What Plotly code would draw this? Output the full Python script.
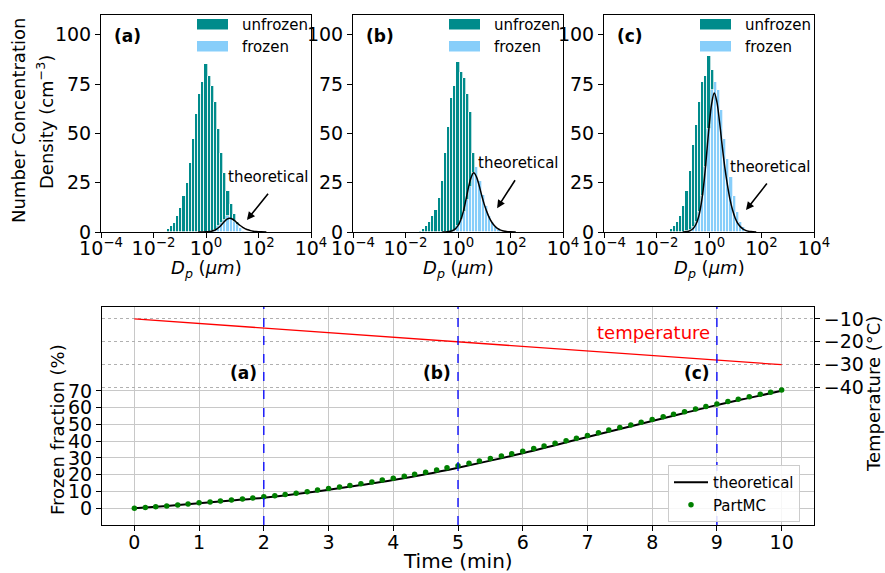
import plotly.graph_objects as go

# ---------------- data ----------------
# histogram bin centres, log10(Dp / um), bin width 0.12 decade
logdp_centers = [-1.44, -1.32, -1.20, -1.08, -0.96, -0.84, -0.72, -0.60, -0.48, -0.36,
                 -0.24, -0.12, 0.00, 0.12, 0.24, 0.36, 0.48, 0.60, 0.72, 0.84,
                 0.96, 1.08, 1.20, 1.32, 1.44, 1.56]
bin_width = 0.12

unfrozen_a = [1.5, 3, 4.5, 8, 12, 18, 25, 35, 47, 60, 70, 76, 85, 79, 73.5, 65, 49, 35.5, 24, 13,
              7.5, 4, 1.5, 0, 0, 0]
frozen_a = [0, 0, 0, 0, 0, 0, 0, 0, 0, 0, 0, 0, 0, 0, 0.5, 1, 3, 4.5, 6, 8,
            6.5, 5, 3.5, 2, 0.5, 0]

unfrozen_b = [0.5, 1.5, 3, 5, 8, 11, 17, 26, 40, 53, 68, 73, 83, 75, 68, 54, 38, 10, 0, 0,
              0, 0, 0, 0, 0, 0]
frozen_b = [0, 0, 0, 0, 0, 0, 0, 0, 0, 0, 0, 1, 3, 6, 10, 16, 23, 30, 33, 26,
            19, 13, 8, 5, 2.5, 1]

unfrozen_c = [1.5, 3, 5, 8, 13, 20.5, 30, 41.5, 49, 56, 58, 46, 37, 10, 0, 0, 0, 0, 0, 0,
              0, 0, 0, 0, 0, 0]
frozen_c = [0, 0, 0, 0, 0, 0.5, 1, 2.5, 5, 10, 18, 33, 52, 72, 76, 72, 62, 47, 37, 28,
            18, 10, 5, 2.5, 1, 0.3]

# theoretical frozen size distributions (log10 Dp, density)
theo_a_x = [-0.3, -0.1, 0.0, 0.1, 0.2, 0.3, 0.4, 0.5, 0.6, 0.7, 0.8, 0.9, 1.0, 1.1, 1.2, 1.3,
            1.4, 1.5, 1.6, 1.7, 1.8, 1.9, 2.0, 2.1, 2.3]
theo_a_y = [0, 0.03, 0.08, 0.18, 0.37, 0.74, 1.4, 2.4, 3.8, 5.3, 6.5, 7.0, 6.6, 5.6, 4.4, 3.3,
            2.4, 1.6, 1.1, 0.7, 0.43, 0.26, 0.15, 0.08, 0]
theo_b_x = [-0.6, -0.4, -0.3, -0.2, -0.1, 0.0, 0.1, 0.2, 0.3, 0.4, 0.5, 0.6, 0.7, 0.8, 0.9, 1.0,
            1.1, 1.2, 1.3, 1.4, 1.5, 1.6, 1.7, 1.8, 1.9, 2.0, 2.2]
theo_b_y = [0, 0.13, 0.34, 0.77, 1.6, 3.2, 6.0, 10.2, 16.2, 22.6, 27.7, 30.0, 28.1, 23.8, 18.7, 14.0,
            10.2, 7.0, 4.7, 3.0, 1.8, 1.1, 0.6, 0.34, 0.17, 0.08, 0]
theo_c_x = [-1.0, -0.8, -0.7, -0.6, -0.5, -0.4, -0.3, -0.2, -0.1, 0.0, 0.1, 0.2, 0.3, 0.4, 0.5, 0.6,
            0.7, 0.8, 0.9, 1.0, 1.1, 1.2, 1.3, 1.4, 1.5, 1.6, 1.8]
theo_c_y = [0, 0.3, 0.8, 1.8, 3.8, 7.5, 14, 24, 38, 53, 65, 70.5, 66, 56, 44, 33,
            24, 16.5, 11, 7, 4.3, 2.6, 1.5, 0.8, 0.4, 0.2, 0]

# frozen fraction time series
theory_time = [0, 0.5, 1, 1.5, 2, 2.5, 3, 3.5, 4, 4.5, 5, 5.5, 6, 6.5, 7, 7.5, 8, 8.5, 9, 9.5, 10]
theory_frac = [0, 1.4, 3.0, 4.6, 6.3, 8.5, 11.0, 13.8, 16.8, 20.3, 24.2, 28.4, 32.8, 37.6, 42.5,
               47.3, 52.0, 56.8, 61.5, 65.8, 70.0]

partmc_time = [0, 0.17, 0.33, 0.5, 0.67, 0.83, 1, 1.17, 1.33, 1.5, 1.67, 1.83,
               2, 2.17, 2.33, 2.5, 2.67, 2.83, 3, 3.17, 3.33, 3.5, 3.67, 3.83,
               4, 4.17, 4.33, 4.5, 4.67, 4.83, 5, 5.17, 5.33, 5.5, 5.67, 5.83,
               6, 6.17, 6.33, 6.5, 6.67, 6.83, 7, 7.17, 7.33, 7.5, 7.67, 7.83,
               8, 8.17, 8.33, 8.5, 8.67, 8.83, 9, 9.17, 9.33, 9.5, 9.67, 9.83, 10]
partmc_frac = [0, 0.4, 0.9, 1.4, 1.9, 2.5, 3.2, 3.7, 4.3, 4.9, 5.5, 6.1,
               6.8, 7.5, 8.2, 9.0, 9.9, 10.8, 11.7, 12.6, 13.6, 14.6, 15.7, 16.8,
               17.9, 19.1, 20.3, 21.5, 22.8, 24.1, 25.4, 26.8, 28.2, 29.6, 31.1, 32.5,
               34.0, 35.6, 37.1, 38.7, 40.2, 41.8, 43.4, 45.0, 46.6, 48.1, 49.7, 51.3,
               52.9, 54.5, 56.0, 57.6, 59.1, 60.6, 62.1, 63.6, 65.0, 66.5, 67.9, 69.2, 70.5]

temp_time = [0, 10]
temp_c = [-10, -30]

snapshot_times = [2, 5, 9]
snapshot_labels = ["(a)", "(b)", "(c)"]

# ---------------- figure ----------------
W, H = 885, 573
FONT = "DejaVu Sans"
TEAL = "#008b8b"
LBLUE = "#87cefa"


def px(x):
    return x / W


def py(y):
    return 1 - y / H


fig = go.Figure()

panels = [
    ("x", "y", unfrozen_a, frozen_a, theo_a_x, theo_a_y),
    ("x2", "y2", unfrozen_b, frozen_b, theo_b_x, theo_b_y),
    ("x3", "y3", unfrozen_c, frozen_c, theo_c_x, theo_c_y),
]
for xa, ya, unf, frz, tx, ty in panels:
    fig.add_trace(go.Bar(x=logdp_centers, y=frz, width=bin_width, xaxis=xa, yaxis=ya,
                         marker=dict(color=LBLUE, line=dict(color="white", width=0.7)),
                         name="frozen", showlegend=False))
    fig.add_trace(go.Bar(x=logdp_centers, y=unf, width=bin_width, xaxis=xa, yaxis=ya,
                         marker=dict(color=TEAL, line=dict(color="white", width=0.7)),
                         name="unfrozen", showlegend=False))
    fig.add_trace(go.Scatter(x=tx, y=ty, xaxis=xa, yaxis=ya, mode="lines",
                             line=dict(color="black", width=1.5, shape="spline"),
                             showlegend=False, hoverinfo="skip"))

# bottom panel
fig.add_trace(go.Scatter(x=temp_time, y=temp_c, xaxis="x4", yaxis="y5", mode="lines",
                         line=dict(color="red", width=1.3), showlegend=False))
fig.add_trace(go.Scatter(x=theory_time, y=theory_frac, xaxis="x4", yaxis="y4", mode="lines",
                         line=dict(color="black", width=2, shape="spline"),
                         name="theoretical"))
fig.add_trace(go.Scatter(x=partmc_time, y=partmc_frac, xaxis="x4", yaxis="y4", mode="markers",
                         marker=dict(color="green", size=5.5),
                         name="PartMC"))

# ---------------- axes ----------------
top_dom_y = [py(232), py(15)]
top_x_doms = [[px(101), px(311)], [px(353), px(563)], [px(604), px(814)]]
tick_txt = ["10<sup>−4</sup>", "10<sup>−2</sup>", "10<sup>0</sup>", "10<sup>2</sup>", "10<sup>4</sup>"]

common_top_x = dict(range=[-4, 4], tickvals=[-4, -2, 0, 2, 4], ticktext=tick_txt,
                    showline=True, mirror=True, linecolor="black", linewidth=1,
                    ticks="outside", ticklen=5, tickcolor="black", showgrid=False,
                    zeroline=False, automargin=False, ticklabelstandoff=-6,
                    tickfont=dict(size=19, family=FONT, color="black"))
common_top_y = dict(range=[0, 110], tickvals=[0, 25, 50, 75, 100],
                    showline=True, mirror=True, linecolor="black", linewidth=1,
                    ticks="outside", ticklen=5, tickcolor="black", showgrid=False,
                    zeroline=False, automargin=False,
                    tickfont=dict(size=19, family=FONT, color="black"))

layout = dict(
    template="none",
    width=W, height=H, autosize=False, margin=dict(l=0, r=0, t=0, b=0, pad=0),
    paper_bgcolor="white", plot_bgcolor="white",
    barmode="stack", bargap=0,
    font=dict(family=FONT, color="black"),
)
for i, dom in enumerate(top_x_doms):
    sx = "" if i == 0 else str(i + 1)
    layout["xaxis" + sx] = dict(common_top_x, domain=dom, anchor="y" + sx)
    layout["yaxis" + sx] = dict(common_top_y, domain=top_dom_y, anchor="x" + sx)

layout["xaxis4"] = dict(domain=[px(102), px(814)], anchor="y4", range=[-0.5, 10.5],
                        tickvals=list(range(0, 11)), showline=True, mirror=True,
                        linecolor="black", linewidth=1.2, ticks="outside", ticklen=5,
                        tickcolor="black", showgrid=True, gridcolor="#c8c8c8", gridwidth=1,
                        zeroline=False, automargin=False, ticklabelstandoff=-5,
                        tickfont=dict(size=19, family=FONT, color="black"))
layout["yaxis4"] = dict(domain=[py(525), py(307)], anchor="x4", range=[-10, 120],
                        tickvals=[0, 10, 20, 30, 40, 50, 60, 70], showline=True, mirror=True,
                        linecolor="black", linewidth=1.2, ticks="outside", ticklen=5,
                        tickcolor="black", showgrid=True, gridcolor="#c8c8c8", gridwidth=1,
                        zeroline=False, automargin=False,
                        tickfont=dict(size=19, family=FONT, color="black"))
layout["yaxis5"] = dict(overlaying="y4", side="right", anchor="x4", range=[-100, -4.8],
                        tickvals=[-10, -20, -30, -40], ticktext=["−10", "−20", "−30", "−40"],
                        showline=False, ticks="outside", ticklen=5, tickcolor="black",
                        showgrid=True, gridcolor="#b0b0b0", gridwidth=0.8, griddash="dot",
                        zeroline=False, automargin=False,
                        tickfont=dict(size=19, family=FONT, color="black"))

layout["legend"] = dict(x=px(668), y=py(465), xanchor="left", yanchor="top",
                        traceorder="normal",
                        bgcolor="rgba(255,255,255,0.85)", bordercolor="#cccccc", borderwidth=1,
                        font=dict(size=15, family=FONT, color="black"),
                        itemwidth=34, tracegroupgap=0)

fig.update_layout(**layout)

# ---------------- annotations & shapes ----------------
ann = []
shapes = []


def paper_text(x, y, text, size, angle=0, color="black", xanchor="center"):
    return dict(x=px(x), y=py(y), xref="paper", yref="paper", text=text, textangle=angle,
                xanchor=xanchor, yanchor="middle", showarrow=False,
                font=dict(size=size, family=FONT, color=color))


# y title for top row (two lines)
ann.append(paper_text(19, 121, "Number Concentration", 18, angle=-90))
ann.append(paper_text(45, 122, "Density (cm<sup>−3</sup>)", 18, angle=-90))

panel_left = [101, 353, 604]
panel_center = [206, 458, 709]
arrows = [((1.56, 6.1), (2.41, 20.2), (2.37, 27.8)),
          ((1.49, 12.1), (2.21, 27.0), (2.32, 34.8)),
          ((1.41, 11.1), (2.25, 25.3), (2.36, 32.8))]
for i in range(3):
    sx = "" if i == 0 else str(i + 1)
    L = panel_left[i]
    # D_p label
    ann.append(paper_text(panel_center[i], 269, "<i>D</i><sub><i>p</i></sub> (<i>μm</i>)", 18))
    # panel label
    ann.append(dict(x=-3.6, y=99.5, xref="x" + sx, yref="y" + sx,
                    text="<b>" + snapshot_labels[i] + "</b>", xanchor="left", yanchor="middle",
                    showarrow=False, font=dict(size=17, family=FONT)))
    # arrow + text
    tip, tail, txt = arrows[i]
    ann.append(dict(x=tip[0], y=tip[1], ax=tail[0], ay=tail[1], xref="x" + sx, yref="y" + sx,
                    axref="x" + sx, ayref="y" + sx, text="", showarrow=True, arrowhead=2,
                    arrowsize=1, arrowwidth=1.6, arrowcolor="black"))
    ann.append(dict(x=txt[0], y=txt[1], xref="x" + sx, yref="y" + sx, text="theoretical",
                    xanchor="center", yanchor="middle",
                    showarrow=False, font=dict(size=15, family=FONT)))
    # manual legend swatches
    shapes.append(dict(type="rect", xref="paper", yref="paper", x0=px(L + 96), x1=px(L + 127),
                       y0=py(29.5), y1=py(19), fillcolor=TEAL, line=dict(width=0)))
    shapes.append(dict(type="rect", xref="paper", yref="paper", x0=px(L + 96), x1=px(L + 127),
                       y0=py(51.5), y1=py(41), fillcolor=LBLUE, line=dict(width=0)))
    ann.append(paper_text(L + 139, 25, "unfrozen", 15, xanchor="left"))
    ann.append(paper_text(L + 139, 46.5, "frozen", 15, xanchor="left"))

# bottom panel vertical lines and labels
for t, lab in zip(snapshot_times, snapshot_labels):
    shapes.append(dict(type="line", xref="x4", yref="y4 domain", x0=t, x1=t, y0=0, y1=1,
                       line=dict(color="blue", width=1.3, dash="dash")))
    ann.append(dict(x=t - 0.08, y=80.5, xref="x4", yref="y4", text="<b>" + lab + "</b>",
                    xanchor="right", yanchor="middle", showarrow=False,
                    font=dict(size=17, family=FONT)))

ann.append(dict(x=8.92, y=104.5, xref="x4", yref="y4", text="temperature", xanchor="right",
                yanchor="middle", showarrow=False, font=dict(size=18, family=FONT, color="red")))

ann.append(paper_text(458, 561, "Time (min)", 20))
ann.append(paper_text(57, 430, "Frozen fraction (%)", 18, angle=-90))
ann.append(paper_text(873, 394, "Temperature (°C)", 18, angle=-90))

fig.update_layout(annotations=ann, shapes=shapes)

fig.write_html("out.html", config={"displayModeBar": False},
               post_script="document.body.style.margin='0px';document.body.style.overflow='hidden';")
